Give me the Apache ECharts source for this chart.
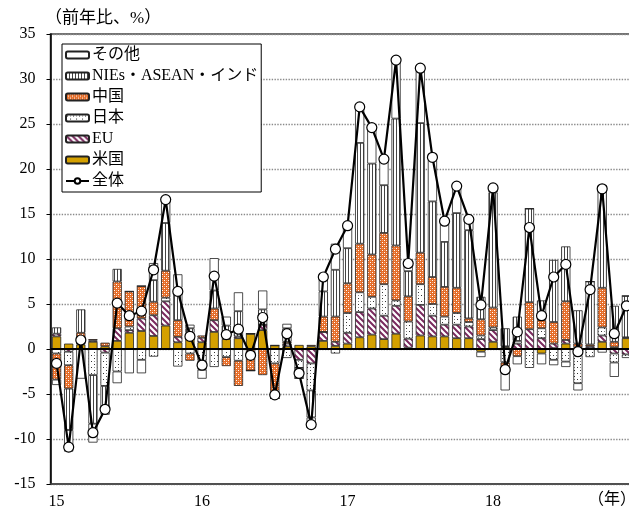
<!DOCTYPE html>
<html>
<head>
<meta charset="utf-8">
<script src="https://cdn.jsdelivr.net/npm/echarts@6/dist/echarts.min.js"></script>
<style>
html,body{margin:0;padding:0;background:#fff;}
#c{width:629px;height:511px;}
</style>
</head>
<body>
<div id="c"></div>
<script>
const categories = [
 '2015/01','2015/02','2015/03','2015/04','2015/05','2015/06','2015/07','2015/08','2015/09','2015/10','2015/11','2015/12',
 '2016/01','2016/02','2016/03','2016/04','2016/05','2016/06','2016/07','2016/08','2016/09','2016/10','2016/11','2016/12',
 '2017/01','2017/02','2017/03','2017/04','2017/05','2017/06','2017/07','2017/08','2017/09','2017/10','2017/11','2017/12',
 '2018/01','2018/02','2018/03','2018/04','2018/05','2018/06','2018/07','2018/08','2018/09','2018/10','2018/11','2018/12'
];
const yTicks = [-15,-10,-5,0,5,10,15,20,25,30,35];

const usa = [1.4,0.6,0.5,0.8,0.3,0.9,1.8,2.0,1.45,2.6,0.75,1.2,
 0.75,1.9,1.1,1.2,1.7,2.1,0.4,0.3,0.45,0.3,0.9,0.35,
 0.6,1.3,1.6,1.1,1.7,0.15,1.5,1.4,1.4,1.2,1.2,-0.3,
 0.8,0.2,0.0,0.0,-0.5,0.1,0.6,0.2,0.1,0.8,0.2,1.2];
const eu = [0.3,-0.3,0.3,0.15,-0.4,1.4,0.3,1.4,2.3,2.7,0.6,0.6,
 0.5,1.3,0.2,0.2,0,0.6,0,0.3,-1.2,-1.6,1.0,0.45,
 1.2,2.8,2.9,2.6,3.1,1.0,3.4,2.3,1.3,1.5,1.3,1.1,
 1.3,0.1,0.6,2.2,1.2,0.5,0.4,-0.7,0.2,0.7,-0.5,-0.6];
const japan = [-0.5,-1.5,0,-2.9,-3.7,-2.5,0.4,-1.2,-0.85,0.4,-1.95,-0.5,
 -1.3,-2.0,-0.9,-1.3,0,0,-1.6,-1.0,-0.9,-3.0,0,-0.5,
 2.2,2.2,1.3,3.5,0.6,1.9,2.3,1.3,0.9,1.3,0.5,0.4,
 0.3,-1.5,0.3,-2.1,1.1,-1.2,-1.4,-3.1,-0.9,0.9,-1.0,-0.4];
const china = [-2.9,-2.6,1.0,0.15,0.4,5.2,3.9,3.6,1.5,3.0,1.85,-0.8,
 0.25,1.3,-1.0,-2.8,-2.4,-2.9,-3.9,0.2,0,0.15,1.7,2.8,
 3.3,5.4,4.7,5.7,6.1,2.8,3.5,3.0,3.3,2.8,0.4,1.8,
 2.2,-1.0,-0.8,3.0,0.9,2.4,4.3,0.4,0.2,4.4,0.6,0.1];
const nies = [0.7,-4.6,2.6,-5.4,-2.9,1.4,0,0,2.4,5.3,3.6,0.5,
 -1.0,2.0,1.3,2.8,0,1.7,0,1.5,-1.15,-3.0,2.8,5.2,
 3.9,11.2,10.1,5.3,14.1,2.8,14.4,8.4,5.0,8.3,9.8,2.5,
 12.8,2.0,2.7,10.4,2.2,6.9,6.1,3.7,7.0,11.4,4.0,4.6];
const other = [-0.6,-2.4,-3.3,-2.1,-0.3,-1.3,-2.7,-1.5,1.9,2.6,1.5,0.4,
 -1.0,3.6,1.0,2.1,0,2.1,0,0.5,0,-1.2,1.6,2.9,
 2.5,4.0,4.0,2.9,6.5,0.9,6.1,4.9,2.3,3.0,1.2,-0.6,
 0.5,-2.1,-0.9,0,-1.2,-0.6,-0.6,-0.8,0,-0.4,-1.6,0];
const total = [-1.6,-10.9,1.0,-9.3,-6.7,5.1,3.7,4.2,8.8,16.6,6.4,1.4,
 -1.8,8.1,1.6,2.2,-0.7,3.5,-5.1,1.7,-2.7,-8.4,8.0,11.1,
 13.7,26.9,24.6,21.1,32.1,9.5,31.2,21.3,14.2,18.1,14.4,4.9,
 17.9,-2.3,1.9,13.5,3.7,8.0,9.4,-0.3,6.6,17.8,1.7,4.8];

function makeCanvas(w,h,draw){
  const c=document.createElement('canvas');c.width=w;c.height=h;
  const g=c.getContext('2d');g.fillStyle='#fff';g.fillRect(0,0,w,h);draw(g);return c;
}
const patNies = makeCanvas(3,2,g=>{g.fillStyle='#444';g.fillRect(0,0,1,2);});
const patChina = makeCanvas(4,4,g=>{g.fillStyle='#E46C28';g.fillRect(0,0,4,4);g.fillStyle='#fff';g.fillRect(0,0,1,1);g.fillRect(2,2,1,1);g.fillStyle='#F2A070';g.fillRect(2,0,1,1);g.fillRect(0,2,1,1);});
const patJapan = makeCanvas(6,6,g=>{g.fillStyle='#333';g.fillRect(1,1,1,1);g.fillRect(4,4,1,1);g.fillStyle='#888';g.fillRect(4,1,1,1);});
const patEU = makeCanvas(6,6,g=>{g.strokeStyle='#7A2A5E';g.lineWidth=2;
  g.beginPath();g.moveTo(-1,-1);g.lineTo(7,7);g.moveTo(-4,2);g.lineTo(4,10);g.moveTo(2,-4);g.lineTo(10,4);g.stroke();});

const serif = "'Liberation Serif','Noto Sans CJK JP',serif";
const border = {borderColor:'#222',borderWidth:0.8};
function barSeries(name,data,color){
  return {name,type:'bar',stack:'s',data,barWidth:'76%',
    itemStyle:Object.assign({color},border),emphasis:{disabled:true},z:2};
}
const chart = echarts.init(document.getElementById('c'),null,{renderer:'canvas'});
chart.setOption({
  animation:false,
  backgroundColor:'#fff',
  grid:{left:50.5,top:34,right:-3.5,bottom:27,show:true,borderColor:'#444',borderWidth:1.5,containLabel:false,outerBoundsMode:'none'},
  legend:{
    orient:'vertical',left:62,top:44,
    data:['その他','NIEs・ASEAN・インド','中国','日本','EU','米国','全体'],
    itemWidth:23,itemHeight:7,itemGap:5,
    padding:[3,3,3,3],
    backgroundColor:'#fff',borderColor:'#000',borderWidth:1,
    textStyle:{fontFamily:serif,fontSize:16,color:'#000',padding:[0,0,0,-2]},
    selectedMode:false
  },
  xAxis:{
    type:'category',data:categories,
    axisLine:{onZero:false,lineStyle:{color:'#444',width:1.5}},
    axisTick:{show:false},
    axisLabel:{interval:11,formatter:v=>v.slice(2,4),fontFamily:serif,fontSize:16,color:'#000',margin:10},
    splitLine:{show:false}
  },
  yAxis:{
    type:'value',min:yTicks[0],max:yTicks[yTicks.length-1],interval:5,
    axisLine:{show:true,lineStyle:{color:'#000',width:1.5}},
    axisTick:{show:true,length:4,lineStyle:{color:'#000'}},
    axisLabel:{fontFamily:serif,fontSize:16,color:'#000',margin:15},
    splitLine:{show:true,lineStyle:{type:'dotted',color:'#8a8a8a',width:1.4}}
  },
  graphic:[
    {type:'text',left:45,top:10,style:{text:'（前年比、%）',font:"17px "+serif,fill:'#000'}},
    {type:'text',x:612,y:500,style:{text:'（年）',font:"16px "+serif,fill:'#000',align:'center',verticalAlign:'middle'}}
  ],
  series:[
    barSeries('米国',usa,'#D4A000'),
    barSeries('EU',eu,{image:patEU,repeat:'repeat'}),
    barSeries('日本',japan,{image:patJapan,repeat:'repeat'}),
    barSeries('中国',china,{image:patChina,repeat:'repeat'}),
    barSeries('NIEs・ASEAN・インド',nies,{image:patNies,repeat:'repeat'}),
    Object.assign(barSeries('その他',other,'#fff'),{
      markLine:{silent:true,symbol:'none',label:{show:false},data:[{yAxis:0}],lineStyle:{color:'#000',width:2,type:'solid'},z:5}
    }),
    {name:'全体',type:'line',data:total,symbol:'circle',symbolSize:10,showSymbol:true,showAllSymbol:true,
     lineStyle:{color:'#000',width:2.2},itemStyle:{color:'#fff',borderColor:'#000',borderWidth:1.2},
     emphasis:{disabled:true},z:10}
  ]
});
</script>
</body>
</html>
